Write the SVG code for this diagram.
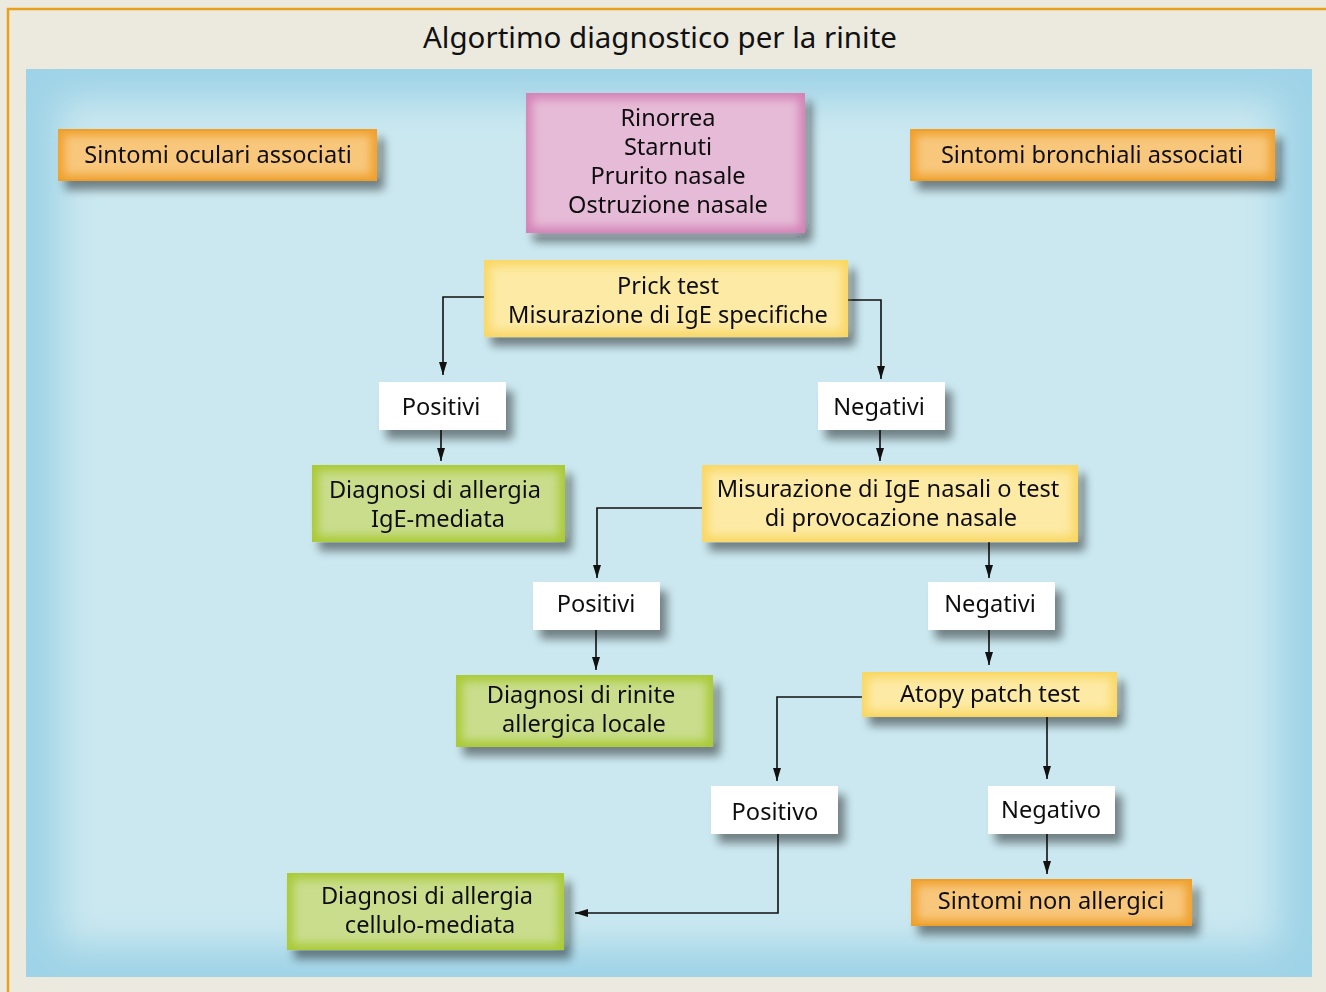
<svg xmlns="http://www.w3.org/2000/svg" width="1326" height="992" viewBox="0 0 1326 992">
<defs>
<style>
text{font-family:"Noto Sans","Open Sans",sans-serif;font-size:23.6px;fill:#111;text-anchor:middle}
.t{font-size:29.5px}
.c{fill:none;stroke:#111;stroke-width:1.6}
</style>
<filter id="sh" x="-20%" y="-30%" width="150%" height="180%">
<feGaussianBlur in="SourceAlpha" stdDeviation="5"/>
<feOffset dx="7" dy="9" result="b"/>
<feComponentTransfer><feFuncA type="linear" slope="0.45"/></feComponentTransfer>
<feMerge><feMergeNode/><feMergeNode in="SourceGraphic"/></feMerge>
</filter>
<filter id="glow" x="-10%" y="-10%" width="120%" height="120%">
<feGaussianBlur stdDeviation="5"/>
</filter>
<filter id="pglow" x="-10%" y="-10%" width="120%" height="120%">
<feGaussianBlur stdDeviation="18"/>
</filter>
<clipPath id="pc"><rect x="26" y="69" width="1286" height="908"/></clipPath>
<marker id="ar" markerWidth="13" markerHeight="8" refX="13" refY="4" orient="auto" markerUnits="userSpaceOnUse">
<path d="M0,0 L13,4 L0,8 Z" fill="#111"/>
</marker>
</defs>
<rect width="1326" height="992" fill="#ece9df"/>
<path d="M8,992 V9 H1326" fill="none" stroke="#e9a01a" stroke-width="2.5"/>
<text class="t" x="660" y="48">Algortimo diagnostico per la rinite</text>
<g clip-path="url(#pc)">
<rect x="26" y="69" width="1286" height="908" fill="#9fd3e7"/>
<rect x="60" y="100" width="1218" height="846" fill="#cbe8f0" filter="url(#pglow)"/>
</g>

<g id="connectors">
<path class="c" d="M484,297 H443 V375" marker-end="url(#ar)"/>
<path class="c" d="M848,300 H881 V379" marker-end="url(#ar)"/>
<path class="c" d="M441,430 V461" marker-end="url(#ar)"/>
<path class="c" d="M880,430 V461" marker-end="url(#ar)"/>
<path class="c" d="M702,508 H597 V578" marker-end="url(#ar)"/>
<path class="c" d="M989,542 V578" marker-end="url(#ar)"/>
<path class="c" d="M596,630 V670" marker-end="url(#ar)"/>
<path class="c" d="M989,630 V665" marker-end="url(#ar)"/>
<path class="c" d="M862,697 H777 V781" marker-end="url(#ar)"/>
<path class="c" d="M1047,717 V779" marker-end="url(#ar)"/>
<path class="c" d="M778,834 V913 H575" marker-end="url(#ar)"/>
<path class="c" d="M1047,834 V874" marker-end="url(#ar)"/>
</g>

<g id="n-oculari" filter="url(#sh)">
<rect x="58" y="129" width="319" height="52" fill="#efa02c"/>
<rect x="64" y="135" width="307" height="40" fill="#f8c77c" filter="url(#glow)"/>
<text x="218" y="163">Sintomi oculari associati</text>
</g>
<g id="n-sintomi" filter="url(#sh)">
<rect x="526" y="93" width="279" height="140" fill="#d382b6"/>
<rect x="532" y="99" width="267" height="128" fill="#e6bbd7" filter="url(#glow)"/>
<text x="668" y="126">Rinorrea</text>
<text x="668" y="155">Starnuti</text>
<text x="668" y="184">Prurito nasale</text>
<text x="668" y="213">Ostruzione nasale</text>
</g>
<g id="n-bronchiali" filter="url(#sh)">
<rect x="910" y="129" width="365" height="52" fill="#efa02c"/>
<rect x="916" y="135" width="353" height="40" fill="#f8c77c" filter="url(#glow)"/>
<text x="1092" y="163">Sintomi bronchiali associati</text>
</g>
<g id="n-prick" filter="url(#sh)">
<rect x="484" y="260" width="364" height="77" fill="#f9d764"/>
<rect x="490" y="266" width="352" height="65" fill="#fdeaa4" filter="url(#glow)"/>
<text x="668" y="294">Prick test</text>
<text x="668" y="323">Misurazione di IgE specifiche</text>
</g>
<g id="n-pos1" filter="url(#sh)">
<rect x="379" y="382" width="127" height="48" fill="#fff"/>
<text x="441" y="415">Positivi</text>
</g>
<g id="n-neg1" filter="url(#sh)">
<rect x="818" y="382" width="127" height="48" fill="#fff"/>
<text x="879" y="415">Negativi</text>
</g>
<g id="n-ige" filter="url(#sh)">
<rect x="312" y="465" width="253" height="77" fill="#a9ca34"/>
<rect x="318" y="471" width="241" height="65" fill="#c9dd8c" filter="url(#glow)"/>
<text x="435" y="498">Diagnosi di allergia</text>
<text x="438" y="527">IgE-mediata</text>
</g>
<g id="n-nasali" filter="url(#sh)">
<rect x="702" y="465" width="376" height="77" fill="#f9d764"/>
<rect x="708" y="471" width="364" height="65" fill="#fdeaa4" filter="url(#glow)"/>
<text x="888" y="497">Misurazione di IgE nasali o test</text>
<text x="891" y="526">di provocazione nasale</text>
</g>
<g id="n-pos2" filter="url(#sh)">
<rect x="533" y="582" width="127" height="48" fill="#fff"/>
<text x="596" y="612">Positivi</text>
</g>
<g id="n-neg2" filter="url(#sh)">
<rect x="928" y="582" width="127" height="48" fill="#fff"/>
<text x="990" y="612">Negativi</text>
</g>
<g id="n-locale" filter="url(#sh)">
<rect x="456" y="675" width="257" height="72" fill="#a9ca34"/>
<rect x="462" y="681" width="245" height="60" fill="#c9dd8c" filter="url(#glow)"/>
<text x="581" y="703">Diagnosi di rinite</text>
<text x="584" y="732">allergica locale</text>
</g>
<g id="n-atopy" filter="url(#sh)">
<rect x="862" y="672" width="255" height="45" fill="#f9d764"/>
<rect x="868" y="678" width="243" height="33" fill="#fdeaa4" filter="url(#glow)"/>
<text x="990" y="702">Atopy patch test</text>
</g>
<g id="n-pos3" filter="url(#sh)">
<rect x="711" y="786" width="127" height="48" fill="#fff"/>
<text x="775" y="820">Positivo</text>
</g>
<g id="n-neg3" filter="url(#sh)">
<rect x="988" y="786" width="127" height="48" fill="#fff"/>
<text x="1051" y="818">Negativo</text>
</g>
<g id="n-cellulo" filter="url(#sh)">
<rect x="287" y="873" width="277" height="77" fill="#a9ca34"/>
<rect x="293" y="879" width="265" height="65" fill="#c9dd8c" filter="url(#glow)"/>
<text x="427" y="904">Diagnosi di allergia</text>
<text x="430" y="933">cellulo-mediata</text>
</g>
<g id="n-nonallergici" filter="url(#sh)">
<rect x="911" y="879" width="281" height="47" fill="#efa02c"/>
<rect x="917" y="885" width="269" height="35" fill="#f8c77c" filter="url(#glow)"/>
<text x="1051" y="909">Sintomi non allergici</text>
</g>
</svg>
